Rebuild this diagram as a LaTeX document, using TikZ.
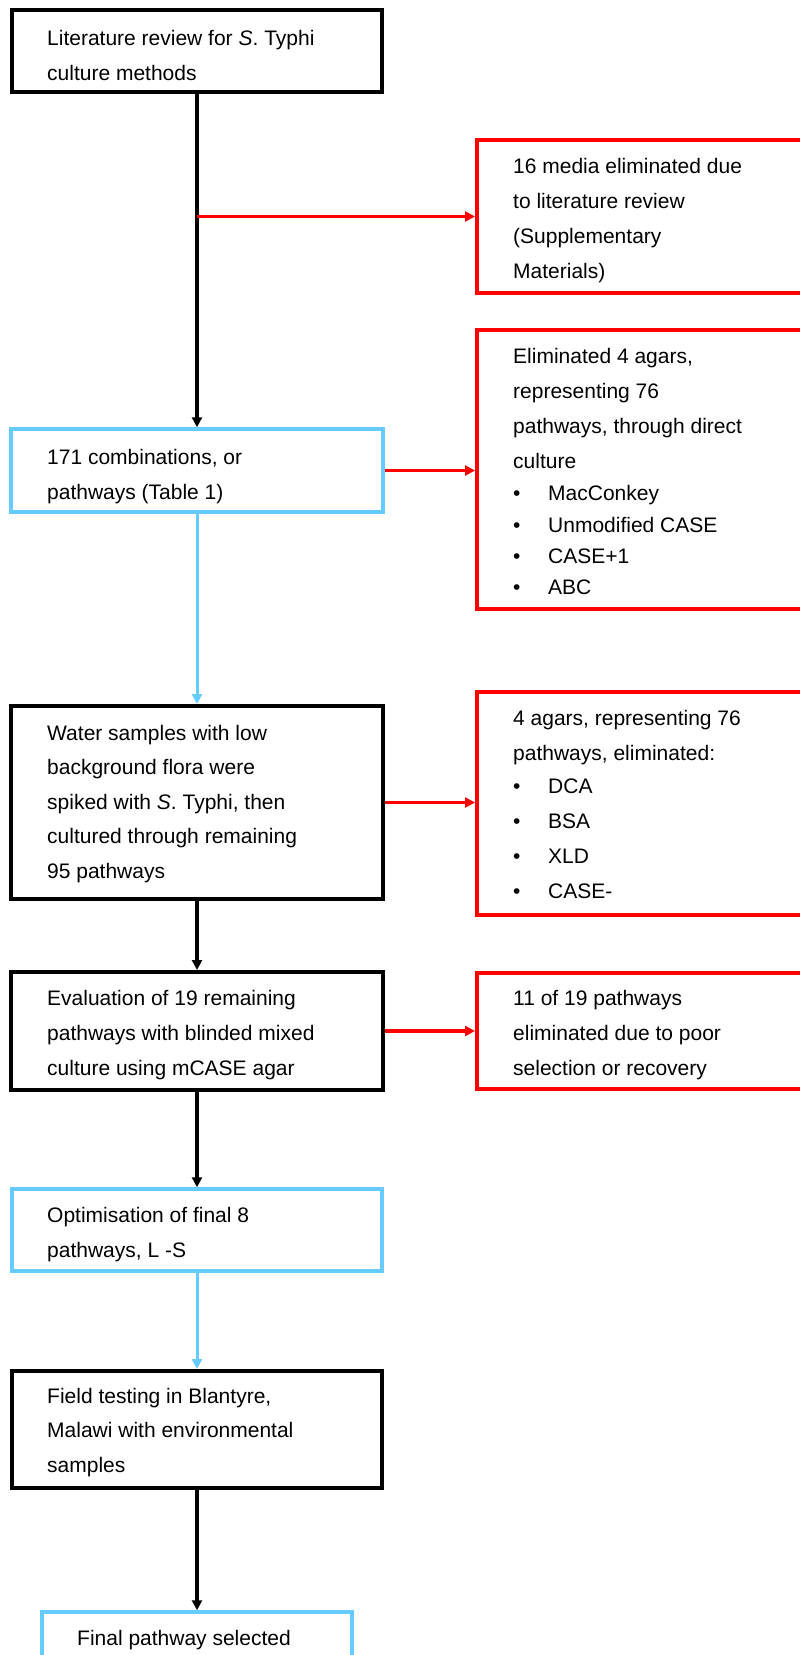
\documentclass[tikz,border=0pt]{standalone}
\usepackage{fontspec}
\setmainfont{Liberation Sans}
\usetikzlibrary{arrows.meta}
\definecolor{skyb}{RGB}{102,204,255}
\definecolor{redc}{RGB}{255,0,0}
\newcommand{\fl}{\rule{0pt}{16pt}}
\newcommand{\bul}[1]{\makebox[35pt][l]{•}#1}
\begin{document}
\begin{tikzpicture}[x=1pt,y=-1pt,
  blackbox/.style={draw=black,line width=4pt,minimum width=370pt,inner sep=0pt},
  bluebox/.style={draw=skyb,line width=3.5pt,minimum width=370pt,inner sep=0pt},
  redbox/.style={draw=redc,line width=4pt,minimum width=353pt,inner sep=0pt},
  txt/.style={anchor=north west,inner sep=0pt,align=left,font=\fontsize{21}{35}\selectfont},
  tip/.style={-{Triangle[length=10pt,width=10pt]}},
  blk/.style={tip,draw=black,line width=3.5pt},
  blu/.style={tip,draw=skyb,line width=3pt},
  rd/.style={tip,draw=redc,line width=3.5pt}]
\clip (0,0) rectangle (800,1655);
\fill[white] (0,0) rectangle (800,1655);
% boxes
\node[blackbox,minimum height=82pt] (b1) at (197,51) {};
\node[redbox,minimum height=153pt] (r1) at (653.5,216.5) {};
\node[bluebox,minimum width=372pt,minimum height=83pt] (b3) at (197,470.5) {};
\node[redbox,minimum height=279pt] (r2) at (653.5,469.5) {};
\node[blackbox,minimum width=372pt,minimum height=193pt] (b5) at (197,802.5) {};
\node[redbox,minimum height=223pt] (r3) at (653.5,803.5) {};
\node[blackbox,minimum width=372pt,minimum height=118pt] (b7) at (197,1031) {};
\node[redbox,minimum height=116pt] (r4) at (653.5,1031) {};
\node[bluebox,minimum height=82pt] (b9) at (197,1230) {};
\node[blackbox,minimum height=117pt] (b10) at (197,1429.5) {};
\node[bluebox,minimum width=310pt,minimum height=88pt] (b11) at (197,1656) {};
% texts
\node[txt] (t1) at (47,29) {\fl Literature review for \textit{S}. Typhi\\culture methods};
\node[txt] (tr1) at (513,157) {\fl 16 media eliminated due\\to literature review\\(Supplementary\\Materials)};
\node[txt] (t3) at (47,448) {\fl 171 combinations, or\\pathways (Table 1)};
\node[txt] (tr2) at (513,347) {\fl Eliminated 4 agars,\\representing 76\\pathways, through direct\\culture\\[-3pt]\bul{MacConkey}\\[-3pt]\bul{Unmodified CASE}\\[-4pt]\bul{CASE+1}\\[-4pt]\bul{ABC}};
\node[txt] (t5) at (47,724) {\fl Water samples with low\\[-0.5pt]background flora were\\[-0.5pt]spiked with \textit{S}. Typhi, then\\[-0.5pt]cultured through remaining\\[-0.5pt]95 pathways};
\node[txt] (tr3) at (513,709) {\fl 4 agars, representing 76\\pathways, eliminated:\\[-2pt]\bul{DCA}\\\bul{BSA}\\\bul{XLD}\\\bul{CASE-}};
\node[txt] (t7) at (47,989) {\fl Evaluation of 19 remaining\\pathways with blinded mixed\\culture using mCASE agar};
\node[txt] (tr4) at (513,989) {\fl 11 of 19 pathways\\eliminated due to poor\\selection or recovery};
\node[txt] (t9) at (47,1206) {\fl Optimisation of final 8\\pathways, L -S};
\node[txt] (t10) at (47,1387) {\fl Field testing in Blantyre,\\[-0.5pt]Malawi with environmental\\[-0.5pt]samples};
\node[txt] (t11) at (77,1629) {\fl Final pathway selected};
% connectors
\coordinate (j1) at (b1.south |- r1.west);
\draw[blk] (b1.south) -- (b3.north);
\draw[rd] (j1) -- (r1.west);
\draw[rd] (b3.east) -- (b3.east -| r2.west);
\draw[blu] (b3.south) -- (b5.north);
\draw[rd] (b5.east) -- (b5.east -| r3.west);
\draw[blk] (b5.south) -- (b7.north);
\draw[rd] (b7.east) -- (r4.west);
\draw[blk] (b7.south) -- (b9.north);
\draw[blu] (b9.south) -- (b10.north);
\draw[blk] (b10.south) -- (b11.north);
\end{tikzpicture}
\end{document}
